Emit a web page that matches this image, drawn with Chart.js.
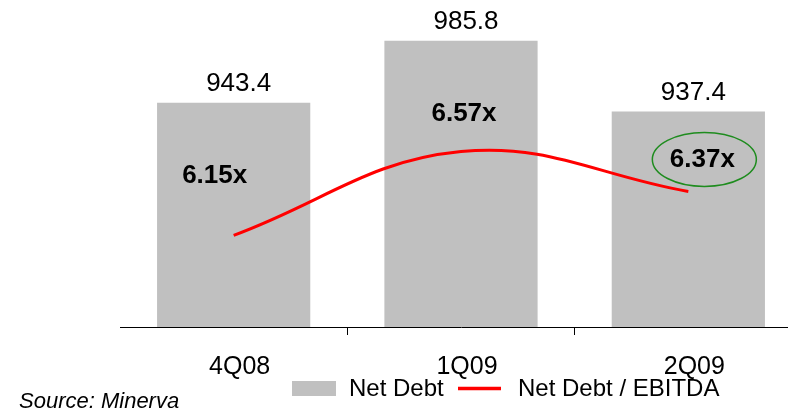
<!DOCTYPE html>
<html lang="en">
<head>
  <meta charset="UTF-8">
  <title>Net Debt and Net Debt / EBITDA</title>
  <script src="https://cdn.jsdelivr.net/npm/chart.js"></script>
  <style>
    html, body { margin: 0; padding: 0; background: #fff; overflow: hidden; }
    #wrap { position: absolute; left: 0; top: 0; width: 802px; height: 414px; }
  </style>
</head>
<body>
  <div id="wrap"><canvas id="debtChart"></canvas></div>

  <script>
    const quarters = ['4Q08', '1Q09', '2Q09'];
    const netDebt = [943.4, 985.8, 937.4];
    const debtToEbitda = [6.15, 6.57, 6.37];
    const highlighted = 2; // the circled ratio

    const FONT = '"Liberation Sans", Arial, sans-serif';

    // value labels, ratio labels, legend and source note
    const labelPlugin = {
      id: 'labels',
      afterDatasetsDraw(chart) {
        const ctx = chart.ctx;
        const bars = chart.getDatasetMeta(1).data;
        const pts = chart.getDatasetMeta(0).data;
        const dx = [-19, 3, 14];
        ctx.save();
        ctx.fillStyle = '#000';
        ctx.textAlign = 'center';
        bars.forEach((bar, i) => {
          ctx.font = '26px ' + FONT;
          ctx.textBaseline = 'alphabetic';
          ctx.fillText(netDebt[i].toFixed(1), bar.x + 5, bar.y - 12);

          // ratio sits inside the bar, kept clear of the line
          const x = bar.x + dx[i];
          const y = Math.min(bar.y + 73, pts[i].y - 32);
          ctx.font = 'bold 26px ' + FONT;
          ctx.textBaseline = 'middle';
          ctx.fillText(debtToEbitda[i].toFixed(2) + 'x', x, y);
          if (i === highlighted) {
            ctx.beginPath();
            ctx.ellipse(x + 2, y, 52, 27, 0, 0, Math.PI * 2);
            ctx.strokeStyle = '#1e8c1e';
            ctx.lineWidth = 1.5;
            ctx.stroke();
          }
        });

        // legend
        ctx.textAlign = 'left';
        ctx.textBaseline = 'alphabetic';
        ctx.fillStyle = '#c0c0c0';
        ctx.fillRect(292, 381, 44, 15);
        ctx.fillStyle = '#000';
        ctx.font = '24px ' + FONT;
        ctx.fillText('Net Debt', 349, 396);
        ctx.beginPath();
        ctx.moveTo(458, 388.5);
        ctx.lineTo(501, 388.5);
        ctx.strokeStyle = '#ff0000';
        ctx.lineWidth = 3.5;
        ctx.stroke();
        ctx.fillText('Net Debt / EBITDA', 518, 396);

        ctx.font = 'italic 22px ' + FONT;
        ctx.fillText('Source: Minerva', 19, 408);
        ctx.restore();
      }
    };

    const debtChart = new Chart(document.getElementById('debtChart'), {
      type: 'bar',
      data: {
        labels: quarters,
        datasets: [
          {
            label: 'Net Debt / EBITDA', type: 'line', data: debtToEbitda, yAxisID: 'y1',
            borderColor: '#ff0000', borderWidth: 3, pointRadius: 0, tension: 0.4, fill: false, order: 0
          },
          {
            label: 'Net Debt', data: netDebt, yAxisID: 'y', backgroundColor: '#c0c0c0',
            barPercentage: 0.674, categoryPercentage: 1, order: 1
          }
        ]
      },
      options: {
        responsive: true,
        maintainAspectRatio: false,
        animation: false,
        layout: { padding: { left: 120, right: 0, top: 20, bottom: 15 } },
        plugins: { legend: { display: false }, tooltip: { enabled: false } },
        scales: {
          x: {
            offset: true,
            grid: {
              offset: true, drawOnChartArea: false, tickLength: 8,
              color: c => (c.index === 1 || c.index === 2) ? '#000' : 'rgba(0,0,0,0)'
            },
            border: { color: '#000', width: 1 },
            ticks: { color: '#000', font: { family: FONT, size: 25 }, padding: 17, labelOffset: 6 }
          },
          y: { display: false, min: 790, max: 1000 },
          y1: { display: false, min: 5.69, max: 7.23 }
        }
      },
      plugins: [labelPlugin]
    });
  </script>
</body>
</html>
